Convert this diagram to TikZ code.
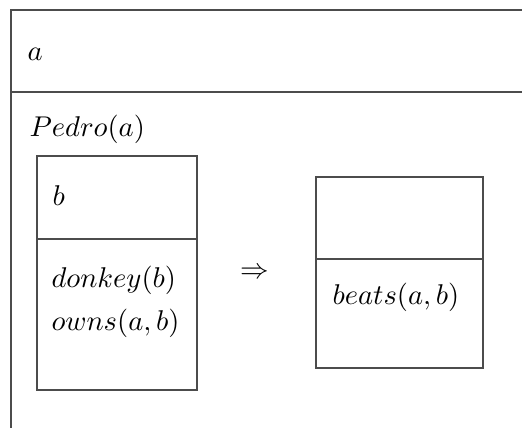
\documentclass[tikz,border=0pt]{standalone}
\begin{document}
\begin{tikzpicture}[x=0.35pt,y=-0.35pt,
  frame/.style={draw=black!70,line width=0.42pt},
  lab/.style={inner sep=0pt,anchor=base west}]
\useasboundingbox (0,0) rectangle (522,428);
\clip (0,0) rectangle (522,428);
% outer DRS
\coordinate (otl) at (11,10);
\coordinate (otr) at (540,10);
\coordinate (obl) at (11,440);
\draw[frame] (otr) -- (otl) -- (obl);
\draw[frame] (11,92) -- (540,92);
\node[lab] (va) at (27,61) {$a$};
\node[lab] (pedro) at (29,137) {$Pedro(a)$};
% left sub-DRS
\draw[frame] (37,156) rectangle (197,390);
\draw[frame] (37,239) -- (197,239);
\node[lab] (vb) at (52,206) {$b$};
\node[lab] (donkey) at (51,288) {$donkey(b)$};
\node[lab] (owns) at (51,331) {$owns(a,b)$};
% implication
\node[inner sep=0pt] (impl) at (255,273) {$\Rightarrow$};
% right sub-DRS
\draw[frame] (316,177) rectangle (483,368);
\draw[frame] (316,259) -- (483,259);
\node[lab,font=\fontsize{10.4}{12}\selectfont] (beats) at (332,305) {$beats(a,b)$};
\end{tikzpicture}
\end{document}
